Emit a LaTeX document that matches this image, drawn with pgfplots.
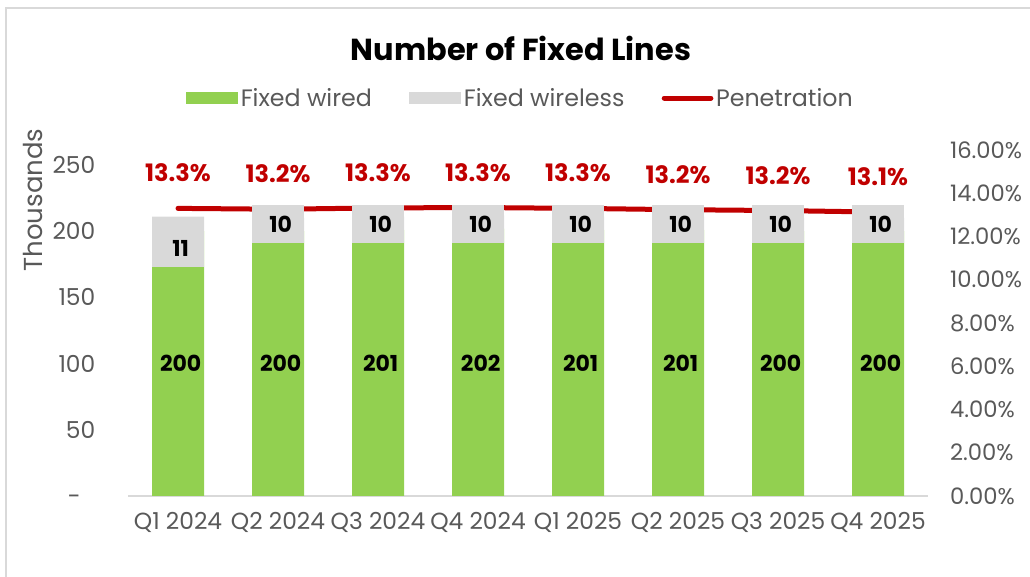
\documentclass[border=0pt]{standalone}
\usepackage{pgfplots}
\pgfplotsset{compat=1.18}
\usepackage{fontspec}
\setmainfont{Poppins}
\definecolor{wired}{HTML}{92D050}
\definecolor{wless}{HTML}{D9D9D9}
\definecolor{pen}{HTML}{C00000}
\definecolor{txt}{HTML}{595959}
\pgfplotsset{/pgf/number format/assume math mode=true}
\begin{document}
\begin{tikzpicture}[x=1pt,y=1pt]
\useasboundingbox (0,0) rectangle (772.5,432.75);
\draw[wless, line width=1pt] (4.5,0) -- (4.5,426.75) -- (772.5,426.75);
% right axis: penetration
\begin{axis}[at={(96pt,60.75pt)}, anchor=south west, scale only axis,
  width=600pt, height=259.5pt,
  xmin=-0.5, xmax=7.5, ymin=0, ymax=16,
  axis line style={draw=none}, tick style={draw=none},
  xtick=\empty, ytick={0,2,...,16}, yticklabel pos=right,
  yticklabel={\pgfmathprintnumber[fixed,fixed zerofill,precision=2]{\tick}\%},
  yticklabel style={txt, font=\fontsize{17}{17}\selectfont, anchor=west, xshift=13pt},
  clip=false]
\addplot[pen, line width=3.75pt, line cap=round,
  nodes near coords, point meta=explicit symbolic,
  every node near coord/.style={pen, font=\bfseries\fontsize{18}{18}\selectfont, anchor=center, yshift=26.5pt}]
  coordinates {(0,13.30)[13.3\%] (1,13.26)[13.2\%] (2,13.32)[13.3\%] (3,13.34)[13.3\%]
               (4,13.30)[13.3\%] (5,13.24)[13.2\%] (6,13.20)[13.2\%] (7,13.13)[13.1\%]};
\end{axis}
% left axis: bars
\begin{axis}[at={(96pt,60.75pt)}, anchor=south west, scale only axis,
  width=600pt, height=259.5pt,
  ybar stacked, bar width=39pt,
  xmin=-0.5, xmax=7.5, ymin=0, ymax=261.3,
  axis x line*=bottom, axis y line*=left,
  x axis line style={-, wless, line width=1pt},
  y axis line style={draw=none},
  tick style={draw=none},
  xtick={0,...,7},
  xticklabels={Q1 2024,Q2 2024,Q3 2024,Q4 2024,Q1 2025,Q2 2025,Q3 2025,Q4 2025},
  ytick={0,50,100,150,200,250},
  yticklabels={-\phantom{0},50,100,150,200,250},
  ticklabel style={txt, font=\fontsize{17.5}{17.5}\selectfont},
  yticklabel style={xshift=-21pt},
  xticklabel style={yshift=-9pt},
  legend style={at={(0.491,1.15)}, anchor=center, draw=none, fill=none,
    legend columns=3, font=\fontsize{17.8}{17.8}\selectfont, text=txt,
    /tikz/every even column/.append style={column sep=26pt}},
  legend cell align=left,
  clip=false]
\addplot[fill=wired, draw=none,
  legend image code/.code={\fill[wired] (0pt,-4.5pt) rectangle (39pt,4.5pt);}]
  coordinates {(0,200)(1,200)(2,201)(3,202)(4,201)(5,201)(6,200)(7,200)};
\addlegendentry{Fixed wired}
\addplot[fill=wless, draw=none,
  legend image code/.code={\fill[wless] (0pt,-4.5pt) rectangle (39pt,4.5pt);}]
  coordinates {(0,11)(1,10)(2,10)(3,10)(4,10)(5,10)(6,10)(7,10)};
\addlegendentry{Fixed wireless}
\addlegendimage{legend image code/.code={\draw[pen, line width=3.75pt, line cap=round] (2pt,0pt) -- (37pt,0pt);}}
\addlegendentry{Penetration}
\coordinate (w0) at (axis cs:0,187.3);
\coordinate (w1) at (axis cs:1,205.4);
\coordinate (w2) at (axis cs:2,205.4);
\coordinate (w3) at (axis cs:3,205.4);
\coordinate (w4) at (axis cs:4,205.4);
\coordinate (w5) at (axis cs:5,205.4);
\coordinate (w6) at (axis cs:6,205.4);
\coordinate (w7) at (axis cs:7,205.4);
\coordinate (g0) at (axis cs:0,100);
\coordinate (g1) at (axis cs:1,100);
\coordinate (g2) at (axis cs:2,100);
\coordinate (g3) at (axis cs:3,100);
\coordinate (g4) at (axis cs:4,100);
\coordinate (g5) at (axis cs:5,100);
\coordinate (g6) at (axis cs:6,100);
\coordinate (g7) at (axis cs:7,100);
\end{axis}
\tikzset{wl/.style={fill=wless, minimum width=39pt, minimum height=28.5pt, inner sep=0pt, font=\bfseries\fontsize{16.5}{16.5}\selectfont, text=black},
         gl/.style={font=\bfseries\fontsize{16.5}{16.5}\selectfont, text=black, xshift=2pt}}
\node[wl] at (w0) {\hspace*{4pt}11};
\node[wl] at (w1) {\hspace*{4pt}10};
\node[wl] at (w2) {\hspace*{4pt}10};
\node[wl] at (w3) {\hspace*{4pt}10};
\node[wl] at (w4) {\hspace*{4pt}10};
\node[wl] at (w5) {\hspace*{4pt}10};
\node[wl] at (w6) {\hspace*{4pt}10};
\node[wl] at (w7) {\hspace*{4pt}10};
\node[gl] at (g0) {200};
\node[gl] at (g1) {200};
\node[gl] at (g2) {201};
\node[gl] at (g3) {202};
\node[gl] at (g4) {201};
\node[gl] at (g5) {201};
\node[gl] at (g6) {200};
\node[gl] at (g7) {200};
\node[font=\bfseries\fontsize{22.8}{22.8}\selectfont] at (390.75,396.75) {Number of Fixed Lines};
\node[rotate=90, txt, font=\fontsize{19.5}{19.5}\selectfont] at (24.75,282.75) {Thousands};
\end{tikzpicture}
\end{document}
